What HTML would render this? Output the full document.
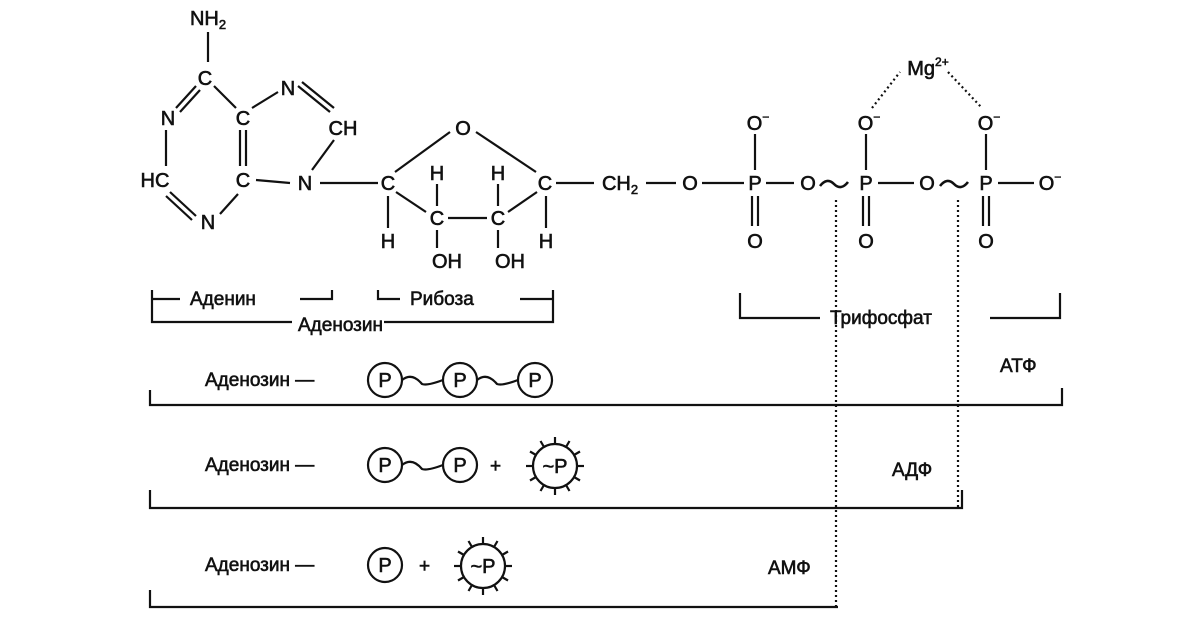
<!DOCTYPE html>
<html><head><meta charset="utf-8"><style>
html,body{margin:0;padding:0;background:#fff;}
svg text{font-family:"Liberation Sans",Arial,sans-serif;fill:#111;stroke:#111;stroke-width:0.6;}
</style></head><body>
<svg width="1200" height="630" viewBox="0 0 1200 630" xmlns="http://www.w3.org/2000/svg">
<g stroke="#111" stroke-width="2.2" fill="none">
<line x1="208" y1="32" x2="208" y2="62"/>
<line x1="196" y1="86" x2="176" y2="108"/><line x1="200" y1="90" x2="180" y2="112"/>
<line x1="214" y1="86" x2="236" y2="108"/>
<line x1="166" y1="130" x2="166" y2="166"/>
<line x1="170" y1="192" x2="196" y2="216"/><line x1="166" y1="196" x2="192" y2="220"/>
<line x1="220" y1="214" x2="238" y2="194"/>
<line x1="240" y1="130" x2="240" y2="166"/><line x1="246" y1="130" x2="246" y2="166"/>
<line x1="256" y1="180" x2="290" y2="183"/>
<line x1="252" y1="108" x2="278" y2="92"/>
<line x1="298" y1="86" x2="330" y2="112"/><line x1="302" y1="82" x2="334" y2="108"/>
<line x1="334" y1="140" x2="312" y2="170"/>
<line x1="320" y1="183" x2="378" y2="183"/>
<line x1="395" y1="172" x2="450" y2="132"/>
<line x1="476" y1="132" x2="536" y2="172"/>
<line x1="396" y1="192" x2="426" y2="212"/>
<line x1="448" y1="218" x2="487" y2="218"/>
<line x1="508" y1="212" x2="537" y2="192"/>
<line x1="388" y1="196" x2="388" y2="228"/>
<line x1="546" y1="196" x2="546" y2="228"/>
<line x1="437" y1="184" x2="437" y2="206"/>
<line x1="498" y1="184" x2="498" y2="206"/>
<line x1="437" y1="230" x2="437" y2="248"/>
<line x1="498" y1="230" x2="498" y2="248"/>
<line x1="556" y1="183" x2="594" y2="183"/>
<line x1="646" y1="183" x2="676" y2="183"/>
<line x1="702" y1="183" x2="744" y2="183"/>
<line x1="766" y1="183" x2="794" y2="183"/>
<line x1="878" y1="183" x2="914" y2="183"/>
<line x1="998" y1="183" x2="1034" y2="183"/>
<path d="M820 186 q7 -9 14 -2 q7 7 14 -2" stroke-width="2.6"/>
<path d="M940 186 q7 -9 14 -2 q7 7 14 -2" stroke-width="2.6"/>
<line x1="755" y1="134" x2="755" y2="170"/>
<line x1="866" y1="134" x2="866" y2="170"/>
<line x1="986" y1="134" x2="986" y2="170"/>
<line x1="752" y1="196" x2="752" y2="226"/><line x1="758" y1="196" x2="758" y2="226"/>
<line x1="863" y1="196" x2="863" y2="226"/><line x1="869" y1="196" x2="869" y2="226"/>
<line x1="983" y1="196" x2="983" y2="226"/><line x1="989" y1="196" x2="989" y2="226"/>
</g>
<g stroke="#111" stroke-width="2.2" stroke-dasharray="2 3" fill="none">
<line x1="872" y1="108" x2="900" y2="72"/>
<line x1="948" y1="72" x2="982" y2="108"/>
<line x1="836" y1="200" x2="836" y2="607"/>
<line x1="958" y1="200" x2="958" y2="508"/>
</g>
<g font-size="20" text-anchor="middle">
<text x="208" y="25">NH<tspan font-size="13" dy="4">2</tspan></text>
<text x="205" y="85">C</text>
<text x="168" y="125">N</text>
<text x="155" y="187">HC</text>
<text x="208" y="229">N</text>
<text x="243" y="125">C</text>
<text x="243" y="187">C</text>
<text x="288" y="95">N</text>
<text x="343" y="135">CH</text>
<text x="305" y="190">N</text>
<text x="463" y="135">O</text>
<text x="388" y="190">C</text>
<text x="437" y="225">C</text>
<text x="498" y="225">C</text>
<text x="545" y="190">C</text>
<text x="437" y="180">H</text>
<text x="498" y="180">H</text>
<text x="388" y="248">H</text>
<text x="546" y="248">H</text>
<text x="447" y="268">OH</text>
<text x="510" y="268">OH</text>
<text x="620" y="190">CH<tspan font-size="13" dy="4">2</tspan></text>
<text x="690" y="190">O</text>
<text x="755" y="190">P</text>
<text x="808" y="190">O</text>
<text x="866" y="190">P</text>
<text x="927" y="190">O</text>
<text x="986" y="190">P</text>
<text x="1050" y="190">O<tspan font-size="12" dy="-9">−</tspan></text>
<text x="758" y="130">O<tspan font-size="12" dy="-9">−</tspan></text>
<text x="869" y="130">O<tspan font-size="12" dy="-9">−</tspan></text>
<text x="989" y="130">O<tspan font-size="12" dy="-9">−</tspan></text>
<text x="755" y="248">O</text>
<text x="866" y="248">O</text>
<text x="986" y="248">O</text>
<text x="928" y="75">Mg<tspan font-size="12" dy="-9">2+</tspan></text>
</g>
<g stroke="#111" stroke-width="2.2" fill="none">
<polyline points="152,290 152,322 553,322 553,290"/>
<line x1="152" y1="299" x2="180" y2="299"/>
<polyline points="300,299 332,299 332,290"/>
<polyline points="378,290 378,299 400,299"/>
<line x1="520" y1="299" x2="553" y2="299"/>
<polyline points="740,293 740,318 820,318"/>
<polyline points="990,318 1060,318 1060,293"/>
<polyline points="150,390 150,405 1062,405 1062,388"/>
<polyline points="150,490 150,508 962,508 962,490"/>
<polyline points="150,590 150,607 838,607"/>
<circle cx="385" cy="380" r="17"/><circle cx="460" cy="380" r="17"/><circle cx="535" cy="380" r="17"/>
<path d="M402 380 q10 -8 20 4 q5 2 21 -4"/><path d="M477 380 q10 -8 20 4 q5 2 21 -4"/>
<circle cx="385" cy="465" r="17"/><circle cx="460" cy="465" r="17"/>
<path d="M402 465 q10 -8 20 4 q5 2 21 -4"/>
<circle cx="555" cy="466" r="22"/>
<circle cx="385" cy="565" r="17"/>
<circle cx="483" cy="566" r="22"/>
</g>
<g stroke="#111" stroke-width="2.2">
<g transform="translate(555,466)">
<line x1="0" y1="-22" x2="0" y2="-29"/><line x1="0" y1="22" x2="0" y2="29"/><line x1="-22" y1="0" x2="-29" y2="0"/><line x1="22" y1="0" x2="29" y2="0"/>
<line x1="11" y1="-19" x2="14.5" y2="-25"/><line x1="-11" y1="-19" x2="-14.5" y2="-25"/><line x1="11" y1="19" x2="14.5" y2="25"/><line x1="-11" y1="19" x2="-14.5" y2="25"/>
<line x1="19" y1="-11" x2="25" y2="-14.5"/><line x1="-19" y1="-11" x2="-25" y2="-14.5"/><line x1="19" y1="11" x2="25" y2="14.5"/><line x1="-19" y1="11" x2="-25" y2="14.5"/>
</g>
<g transform="translate(483,566)">
<line x1="0" y1="-22" x2="0" y2="-29"/><line x1="0" y1="22" x2="0" y2="29"/><line x1="-22" y1="0" x2="-29" y2="0"/><line x1="22" y1="0" x2="29" y2="0"/>
<line x1="11" y1="-19" x2="14.5" y2="-25"/><line x1="-11" y1="-19" x2="-14.5" y2="-25"/><line x1="11" y1="19" x2="14.5" y2="25"/><line x1="-11" y1="19" x2="-14.5" y2="25"/>
<line x1="19" y1="-11" x2="25" y2="-14.5"/><line x1="-19" y1="-11" x2="-25" y2="-14.5"/><line x1="19" y1="11" x2="25" y2="14.5"/><line x1="-19" y1="11" x2="-25" y2="14.5"/>
</g>
</g>
<rect x="292" y="314" width="92" height="18" fill="#fff"/>
<g font-size="19">
<text x="190" y="305">Аденин</text>
<text x="410" y="305">Рибоза</text>
<text x="298" y="331">Аденозин</text>
<text x="830" y="324">Трифосфат</text>
<text x="205" y="386">Аденозин —</text>
<text x="205" y="471">Аденозин —</text>
<text x="205" y="571">Аденозин —</text>
<text x="1000" y="372">АТФ</text>
<text x="892" y="476">АДФ</text>
<text x="768" y="574">АМФ</text>
<text x="490" y="472">+</text>
<text x="419" y="572">+</text>
</g>
<g font-size="20" text-anchor="middle">
<text x="385" y="387">P</text><text x="460" y="387">P</text><text x="535" y="387">P</text>
<text x="385" y="472">P</text><text x="460" y="472">P</text>
<text x="385" y="572">P</text>
<text x="555" y="473">~P</text>
<text x="483" y="573">~P</text>
</g>
</svg>
</body></html>
